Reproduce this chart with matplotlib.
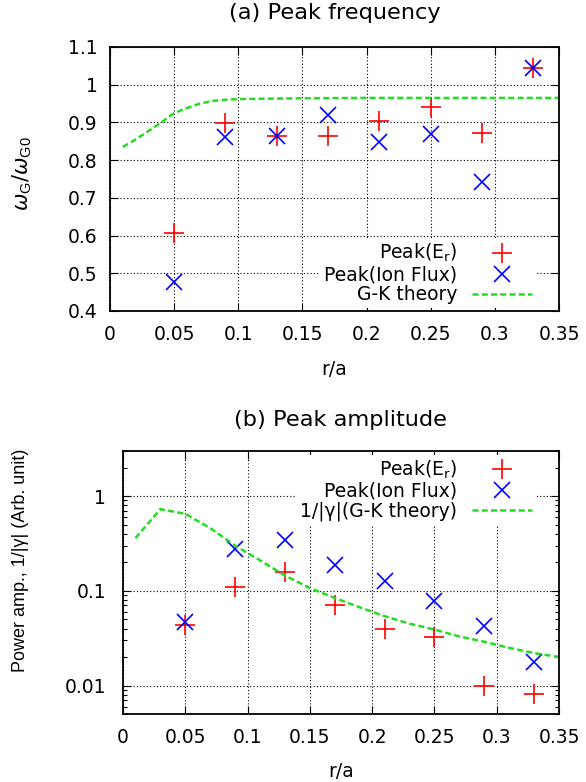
import matplotlib
matplotlib.use("Agg")
import matplotlib.pyplot as plt
from matplotlib.ticker import FixedLocator, FormatStrFormatter, LogLocator, NullFormatter

plt.rcParams['font.family'] = ['DejaVu Sans']
plt.rcParams['mathtext.fontset'] = 'dejavusans'
plt.rcParams['font.size'] = 13.5

# radial positions of the measured peaks
r = [0.05, 0.09, 0.13, 0.17, 0.21, 0.25, 0.29, 0.33]

# (a) peak frequency
freq_er = [0.606, 0.898, 0.863, 0.865, 0.905, 0.942, 0.872, 1.043]
freq_flux = [0.476, 0.861, 0.863, 0.920, 0.848, 0.869, 0.741, 1.043]
gk_r = [0.01, 0.02, 0.03, 0.04, 0.05, 0.06, 0.07, 0.08, 0.09, 0.10, 0.15, 0.20, 0.35]
gk_freq = [0.835, 0.855, 0.877, 0.900, 0.925, 0.938, 0.950, 0.957, 0.960, 0.962, 0.964, 0.965, 0.965]

# (b) peak amplitude
amp_er = [0.044, 0.111, 0.157, 0.0715, 0.0396, 0.0326, 0.00985, 0.0081]
amp_flux = [0.047, 0.278, 0.346, 0.186, 0.126, 0.0775, 0.0422, 0.0176]
gk_r2 = [0.01, 0.03, 0.05, 0.07, 0.09, 0.11, 0.13, 0.15, 0.17, 0.19, 0.21, 0.23,
         0.25, 0.27, 0.29, 0.31, 0.33, 0.35]
gk_amp = [0.36, 0.73, 0.65, 0.46, 0.30, 0.21, 0.145, 0.107, 0.084, 0.067, 0.054, 0.045,
          0.039, 0.033, 0.029, 0.025, 0.022, 0.020]

xticks = [0, 0.05, 0.1, 0.15, 0.2, 0.25, 0.3, 0.35]

red = '#ff0000'
blue = '#0000ff'
green = '#22dd22'
dash = (0, (2.4, 1.3))


def style_axes(ax):
    for s in ax.spines.values():
        s.set_linewidth(1.3)
    ax.tick_params(which='both', direction='in', top=True, right=True)
    ax.tick_params(which='major', length=6, width=0.8)
    ax.tick_params(which='minor', length=3, width=0.8)
    ax.tick_params(axis='x', pad=10)
    ax.grid(True, which='major', color='black', linestyle=(0, (1, 2)), linewidth=0.8)
    ax.set_axisbelow(True)
    ax.set_xlim(0, 0.35)
    ax.xaxis.set_major_locator(FixedLocator(xticks))
    ax.xaxis.set_major_formatter(FormatStrFormatter('%g'))


fig = plt.figure(figsize=(5.86, 7.82), dpi=100)

# ---- (a) ----
ax1 = fig.add_axes([110 / 586, 1 - 311 / 782, 449 / 586, 264 / 782])
style_axes(ax1)
ax1.plot(r, freq_er, ls='none', marker='+', ms=14, mew=1.2, color=red,
         label=r'Peak(E$_\mathregular{r}$)')
ax1.plot(r, freq_flux, ls='none', marker='x', ms=11.5, mew=1.2, color=blue,
         label='Peak(Ion Flux)')
ax1.plot(gk_r, gk_freq, ls=dash, lw=1.8, color=green, label='G-K theory')
ax1.set_ylim(0.4, 1.1)
ax1.yaxis.set_major_locator(FixedLocator([0.4, 0.5, 0.6, 0.7, 0.8, 0.9, 1.0, 1.1]))
ax1.yaxis.set_major_formatter(FormatStrFormatter('%g'))
ax1.tick_params(axis='y', pad=9)
ax1.set_title('(a) Peak frequency', pad=20.5)
ax1.set_xlabel('r/a')
ax1.xaxis.set_label_coords(0.5, -0.186)
ax1.set_ylabel(r'$\omega_\mathregular{G}/\omega_\mathregular{G0}$', family='Liberation Sans', fontsize=15)
ax1.yaxis.set_label_coords(-0.17, 0.52)
leg1 = ax1.legend(loc='lower right', bbox_to_anchor=(0.949, 0.011), borderaxespad=0,
                  borderpad=0.2, markerfirst=False, handlelength=3.2, handletextpad=0.8,
                  labelspacing=0.05, frameon=True, framealpha=1, edgecolor='none',
                  fancybox=False)

# ---- (b) ----
ax2 = fig.add_axes([123 / 586, 1 - 714 / 782, 436 / 586, 263 / 782])
style_axes(ax2)
ax2.plot(r, amp_er, ls='none', marker='+', ms=14, mew=1.2, color=red,
         label=r'Peak(E$_\mathregular{r}$)')
ax2.plot(r, amp_flux, ls='none', marker='x', ms=11.5, mew=1.2, color=blue,
         label='Peak(Ion Flux)')
ax2.plot(gk_r2, gk_amp, ls=dash, lw=1.8, color=green, label='1/|γ|(G-K theory)')
ax2.set_yscale('log')
ax2.set_ylim(0.005, 3)
ax2.yaxis.set_major_locator(FixedLocator([0.01, 0.1, 1]))
ax2.yaxis.set_major_formatter(FormatStrFormatter('%g'))
ax2.yaxis.set_minor_locator(LogLocator(base=10, subs=range(2, 10)))
ax2.yaxis.set_minor_formatter(NullFormatter())
ax2.tick_params(axis='y', pad=12)
ax2.set_title('(b) Peak amplitude', pad=18)
ax2.set_xlabel('r/a')
ax2.xaxis.set_label_coords(0.5, -0.183)
ax2.set_ylabel('Power amp., 1/|γ| (Arb. unit)', family='Liberation Sans', fontsize=13)
ax2.yaxis.set_label_coords(-0.215, 0.586)
leg2 = ax2.legend(loc='upper right', bbox_to_anchor=(0.947, 0.985), borderaxespad=0,
                  borderpad=0.2, markerfirst=False, handlelength=3.2, handletextpad=0.8,
                  labelspacing=0.05, frameon=True, framealpha=1, edgecolor='none',
                  fancybox=False)

fig.savefig('out.png', dpi=100)
